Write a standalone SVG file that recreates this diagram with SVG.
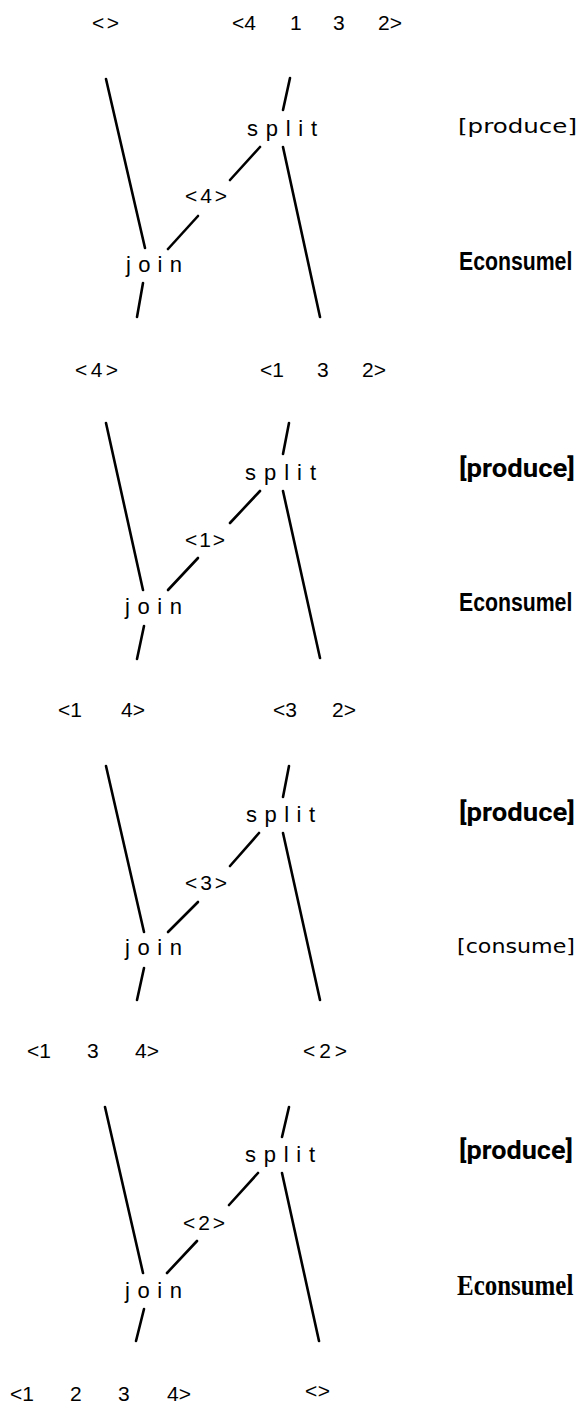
<svg xmlns="http://www.w3.org/2000/svg" width="582" height="1409" viewBox="0 0 582 1409">
<style>
.seq{font-family:"Liberation Sans","DejaVu Sans",sans-serif;font-size:21px;fill:#000}
.op{font-family:"Liberation Sans","DejaVu Sans",sans-serif;font-size:22px;fill:#000}
.tw{font-family:"DejaVu Sans","Liberation Sans",sans-serif;font-size:19px;fill:#000}
.bn{font-family:"Liberation Sans",Arial,sans-serif;font-weight:bold;font-size:25px;fill:#000}
.rb{font-family:Roboto,"Liberation Sans",sans-serif;font-weight:bold;font-size:25px;fill:#000}
.sb{font-family:"Liberation Serif","Times New Roman",serif;font-weight:bold;font-size:29px;fill:#000}
.ln{stroke:#000;stroke-width:2.6;stroke-linecap:round;fill:none}
</style>
<rect width="582" height="1409" fill="#fff"/>

<g id="connectors" class="ln">
  <line x1="106" y1="79" x2="145" y2="248"/>
  <line x1="290" y1="78" x2="283" y2="110"/>
  <line x1="283" y1="147" x2="320" y2="317"/>
  <line x1="260" y1="147" x2="230" y2="180"/>
  <line x1="198" y1="216" x2="168" y2="249"/>
  <line x1="143" y1="283" x2="137" y2="317"/>
  <line x1="106" y1="423" x2="143" y2="590"/>
  <line x1="289" y1="423" x2="283" y2="454"/>
  <line x1="283" y1="491" x2="320" y2="658"/>
  <line x1="260" y1="491" x2="230" y2="523"/>
  <line x1="198" y1="558" x2="168" y2="590"/>
  <line x1="144" y1="626" x2="137" y2="659"/>
  <line x1="106" y1="766" x2="144" y2="932"/>
  <line x1="289" y1="766" x2="283" y2="797"/>
  <line x1="283" y1="833" x2="320" y2="1000"/>
  <line x1="259" y1="833" x2="230" y2="866"/>
  <line x1="198" y1="902" x2="168" y2="932"/>
  <line x1="144" y1="968" x2="137" y2="1000"/>
  <line x1="105" y1="1107" x2="143" y2="1273"/>
  <line x1="289" y1="1107" x2="282" y2="1137"/>
  <line x1="282" y1="1173" x2="319" y2="1341"/>
  <line x1="258" y1="1173" x2="229" y2="1205"/>
  <line x1="197" y1="1241" x2="167" y2="1273"/>
  <line x1="144" y1="1309" x2="136" y2="1341"/>
</g>

<g id="p1-left-seq"><text class="seq" x="92" y="30" textLength="27">&lt;&gt;</text></g>
<g id="p1-right-seq"><text class="seq" y="30"><tspan x="232">&lt;4 </tspan><tspan x="290">1 </tspan><tspan x="333">3 </tspan><tspan x="378">2&gt;</tspan></text></g>
<g id="p1-split"><text class="op" x="247" y="136" textLength="70" lengthAdjust="spacing">split</text></g>
<g id="p1-token"><text class="seq" x="185" y="203" textLength="42">&lt;4&gt;</text></g>
<g id="p1-join"><text class="op" x="126" y="272" textLength="56" lengthAdjust="spacing">join</text></g>
<g id="p1-produce"><text class="tw" x="458" y="133" textLength="119" lengthAdjust="spacingAndGlyphs">[produce]</text></g>
<g id="p1-consume"><text class="bn" transform="translate(459 270) scale(0.85 1)">Econsumel</text></g>

<g id="p2-left-seq"><text class="seq" x="75" y="377" textLength="43">&lt;4&gt;</text></g>
<g id="p2-right-seq"><text class="seq" y="377"><tspan x="260">&lt;1 </tspan><tspan x="317">3 </tspan><tspan x="362">2&gt;</tspan></text></g>
<g id="p2-split"><text class="op" x="245" y="480" textLength="71" lengthAdjust="spacing">split</text></g>
<g id="p2-token"><text class="seq" x="185" y="547" textLength="40">&lt;1&gt;</text></g>
<g id="p2-join"><text class="op" x="125" y="614" textLength="57" lengthAdjust="spacing">join</text></g>
<g id="p2-produce"><text class="rb" x="459" y="477" textLength="116" lengthAdjust="spacingAndGlyphs">[produce]</text></g>
<g id="p2-consume"><text class="bn" transform="translate(459 611) scale(0.85 1)">Econsumel</text></g>

<g id="p3-left-seq"><text class="seq" y="717"><tspan x="58">&lt;1 </tspan><tspan x="121">4&gt;</tspan></text></g>
<g id="p3-right-seq"><text class="seq" y="717"><tspan x="273">&lt;3 </tspan><tspan x="332">2&gt;</tspan></text></g>
<g id="p3-split"><text class="op" x="246" y="822" textLength="69" lengthAdjust="spacing">split</text></g>
<g id="p3-token"><text class="seq" x="185" y="890" textLength="42">&lt;3&gt;</text></g>
<g id="p3-join"><text class="op" x="125" y="955" textLength="57" lengthAdjust="spacing">join</text></g>
<g id="p3-produce"><text class="rb" x="459" y="821" textLength="116" lengthAdjust="spacingAndGlyphs">[produce]</text></g>
<g id="p3-consume"><text class="tw" x="457" y="953" textLength="118" lengthAdjust="spacingAndGlyphs">[consume]</text></g>

<g id="p4-left-seq"><text class="seq" y="1058"><tspan x="27">&lt;1 </tspan><tspan x="87">3 </tspan><tspan x="135">4&gt;</tspan></text></g>
<g id="p4-right-seq"><text class="seq" x="303" y="1058" textLength="44">&lt;2&gt;</text></g>
<g id="p4-split"><text class="op" x="245" y="1162" textLength="70" lengthAdjust="spacing">split</text></g>
<g id="p4-token"><text class="seq" x="183" y="1230" textLength="42">&lt;2&gt;</text></g>
<g id="p4-join"><text class="op" x="125" y="1298" textLength="57" lengthAdjust="spacing">join</text></g>
<g id="p4-produce"><text class="rb" x="459" y="1159" textLength="114" lengthAdjust="spacingAndGlyphs">[produce]</text></g>
<g id="p4-consume"><text class="sb" transform="translate(457 1295) scale(0.86 1)">Econsumel</text></g>

<g id="final-left-seq"><text class="seq" y="1401"><tspan x="10">&lt;1 </tspan><tspan x="70">2 </tspan><tspan x="118">3 </tspan><tspan x="167">4&gt;</tspan></text></g>
<g id="final-right-seq"><text class="seq" x="305" y="1398" textLength="25">&lt;&gt;</text></g>
</svg>
